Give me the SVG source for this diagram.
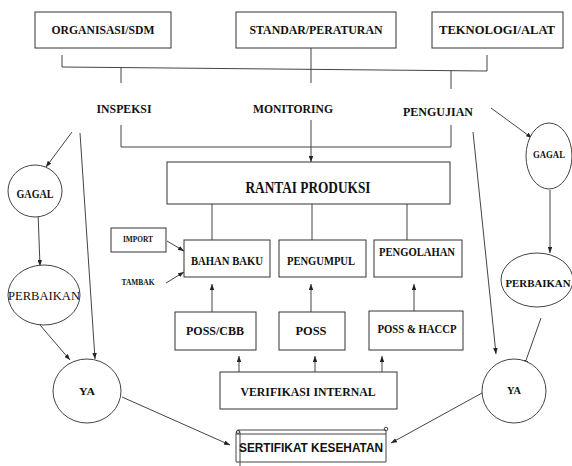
<svg xmlns="http://www.w3.org/2000/svg" width="572" height="466" viewBox="0 0 572 466">
<defs>
<marker id="ah" viewBox="0 0 8 6" refX="8" refY="3" markerWidth="6" markerHeight="4.5" orient="auto" markerUnits="userSpaceOnUse">
<path d="M0,0 L8,3 L0,6 z" fill="#222"/>
</marker>
<style>
.box{fill:#fff;stroke:#333;stroke-width:1}
.el{fill:#fff;stroke:#444;stroke-width:1}
.t{font-family:"Liberation Serif","Times New Roman",serif;font-weight:bold;fill:#111;text-anchor:middle}
.s{font-family:"Liberation Sans",Arial,sans-serif;font-weight:bold;fill:#111;text-anchor:middle}
.ln{fill:none;stroke:#444;stroke-width:1}
.ar{fill:none;stroke:#444;stroke-width:1;marker-end:url(#ah)}
</style>
</defs>
<rect width="572" height="466" fill="#fff"/>

<g id="connectors">
<polyline class="ln" points="62,55 62,67 487,71 487,55"/>
<line class="ln" x1="121" y1="68" x2="121" y2="83"/>
<line class="ln" x1="311" y1="48" x2="311" y2="83"/>
<line class="ln" x1="451" y1="70" x2="451" y2="89"/>
<polyline class="ln" points="121,125 121,147 451,147 451,125"/>
<line class="ar" x1="311" y1="120" x2="311" y2="162"/>
<line class="ln" x1="212" y1="204" x2="212" y2="240"/>
<line class="ln" x1="312" y1="204" x2="312" y2="240"/>
<line class="ln" x1="407" y1="204" x2="407" y2="240"/>
<line class="ar" x1="167" y1="241" x2="184" y2="251"/>
<line class="ar" x1="166" y1="283" x2="184" y2="272"/>
<line class="ar" x1="212" y1="312" x2="212" y2="284"/>
<line class="ar" x1="311" y1="312" x2="311" y2="284"/>
<line class="ar" x1="414" y1="312" x2="414" y2="284"/>
<line class="ar" x1="239" y1="372" x2="239" y2="356"/>
<line class="ar" x1="315" y1="372" x2="315" y2="356"/>
<line class="ar" x1="382" y1="372" x2="382" y2="356"/>
<line class="ar" x1="72" y1="132" x2="46" y2="167"/>
<line class="ar" x1="80" y1="133" x2="95" y2="359"/>
<line class="ar" x1="38" y1="212" x2="40" y2="266"/>
<line class="ar" x1="40" y1="325" x2="70" y2="360"/>
<line class="ar" x1="122" y1="397" x2="230" y2="445"/>
<line class="ar" x1="491" y1="108" x2="532" y2="138"/>
<line class="ar" x1="473" y1="132" x2="496" y2="354"/>
<line class="ar" x1="550" y1="190" x2="550" y2="253"/>
<line class="ar" x1="541" y1="318" x2="524" y2="366"/>
<line class="ar" x1="482" y1="393" x2="391" y2="443"/>
</g>

<g id="organisasi">
<rect class="box" x="35" y="12" width="136" height="36"/>
<text class="t" x="103" y="34" font-size="12" textLength="103" lengthAdjust="spacingAndGlyphs">ORGANISASI/SDM</text>
</g>
<g id="standar">
<rect class="box" x="236" y="12" width="160" height="36"/>
<text class="t" x="316" y="34" font-size="12" textLength="133" lengthAdjust="spacingAndGlyphs">STANDAR/PERATURAN</text>
</g>
<g id="teknologi">
<rect class="box" x="432" y="12" width="131" height="36"/>
<text class="t" x="497" y="34" font-size="12" textLength="116" lengthAdjust="spacingAndGlyphs">TEKNOLOGI/ALAT</text>
</g>

<g id="inspeksi">
<text class="t" x="124" y="113" font-size="13" textLength="55" lengthAdjust="spacingAndGlyphs">INSPEKSI</text>
</g>
<g id="monitoring">
<text class="t" x="293" y="113" font-size="13" textLength="80" lengthAdjust="spacingAndGlyphs">MONITORING</text>
</g>
<g id="pengujian">
<text class="t" x="438" y="116" font-size="12.5" textLength="70" lengthAdjust="spacingAndGlyphs">PENGUJIAN</text>
</g>

<g id="rantai">
<rect class="box" x="167" y="162" width="283" height="42"/>
<text class="t" x="308" y="193" font-size="16" textLength="125" lengthAdjust="spacingAndGlyphs">RANTAI PRODUKSI</text>
</g>

<g id="import">
<rect class="box" x="111" y="228" width="55" height="24"/>
<text class="t" x="138" y="242" font-size="9" textLength="30" lengthAdjust="spacingAndGlyphs">IMPORT</text>
</g>
<g id="tambak">
<text class="t" x="138" y="285" font-size="8.5" textLength="33" lengthAdjust="spacingAndGlyphs">TAMBAK</text>
</g>

<g id="bahanbaku">
<rect class="box" x="184" y="240" width="86" height="37"/>
<text class="t" x="227" y="265" font-size="11.5" textLength="72" lengthAdjust="spacingAndGlyphs">BAHAN BAKU</text>
</g>
<g id="pengumpul">
<rect class="box" x="279" y="240" width="87" height="37"/>
<text class="t" x="321" y="265" font-size="11.5" textLength="68" lengthAdjust="spacingAndGlyphs">PENGUMPUL</text>
</g>
<g id="pengolahan">
<rect class="box" x="374" y="240" width="88" height="37"/>
<text class="t" x="417" y="256" font-size="11.5" textLength="76" lengthAdjust="spacingAndGlyphs">PENGOLAHAN</text>
</g>

<g id="posscbb">
<rect class="box" x="175" y="312" width="81" height="38"/>
<text class="t" x="215" y="335" font-size="12" textLength="58" lengthAdjust="spacingAndGlyphs">POSS/CBB</text>
</g>
<g id="poss">
<rect class="box" x="279" y="312" width="66" height="38"/>
<text class="t" x="311" y="335" font-size="12" textLength="31" lengthAdjust="spacingAndGlyphs">POSS</text>
</g>
<g id="posshaccp">
<rect class="box" x="369" y="311" width="94" height="39"/>
<text class="t" x="417" y="333" font-size="11.5" textLength="79" lengthAdjust="spacingAndGlyphs">POSS &amp; HACCP</text>
</g>

<g id="verifikasi">
<rect class="box" x="220" y="372" width="177" height="37"/>
<text class="t" x="308" y="396" font-size="13.5" textLength="135" lengthAdjust="spacingAndGlyphs">VERIFIKASI INTERNAL</text>
</g>

<g id="gagal-kiri">
<ellipse class="el" cx="35" cy="191" rx="27" ry="26"/>
<text class="t" x="35" y="198" font-size="11.5" textLength="37" lengthAdjust="spacingAndGlyphs">GAGAL</text>
</g>
<g id="perbaikan-kiri">
<ellipse class="el" cx="44" cy="295" rx="36" ry="30"/>
<text class="t" x="44" y="300" font-size="13.5" textLength="72" lengthAdjust="spacingAndGlyphs" style="font-weight:normal">PERBAIKAN</text>
</g>
<g id="ya-kiri">
<ellipse class="el" cx="87" cy="391" rx="34" ry="32"/>
<text class="t" x="87" y="395" font-size="11" textLength="16" lengthAdjust="spacingAndGlyphs">YA</text>
</g>

<g id="gagal-kanan">
<ellipse class="el" cx="549" cy="156" rx="23" ry="33"/>
<text class="t" x="549" y="158" font-size="10.5" textLength="32" lengthAdjust="spacingAndGlyphs">GAGAL</text>
</g>
<g id="perbaikan-kanan">
<ellipse class="el" cx="537" cy="280" rx="36" ry="27"/>
<text class="t" x="538" y="287" font-size="11" textLength="65" lengthAdjust="spacingAndGlyphs">PERBAIKAN</text>
</g>
<g id="ya-kanan">
<ellipse class="el" cx="514" cy="391" rx="32" ry="32"/>
<text class="t" x="514" y="394" font-size="11" textLength="14" lengthAdjust="spacingAndGlyphs">YA</text>
</g>

<g id="sertifikat">
<path class="ln" d="M236,434 L386,434 L386,462 L236,462 Z"/>
<path class="ln" d="M236,434 Q236,430 238,430 L386,430"/>
<path class="ln" d="M238,430 Q240,430 240,433 L240,466"/>
<circle class="ln" cx="386" cy="429" r="1.8"/>
<circle class="ln" cx="238" cy="432" r="1.5"/>
<line class="ln" x1="386" y1="431" x2="386" y2="434"/>
<text class="s" x="311" y="452" font-size="12" textLength="144" lengthAdjust="spacingAndGlyphs">SERTIFIKAT KESEHATAN</text>
</g>
</svg>
